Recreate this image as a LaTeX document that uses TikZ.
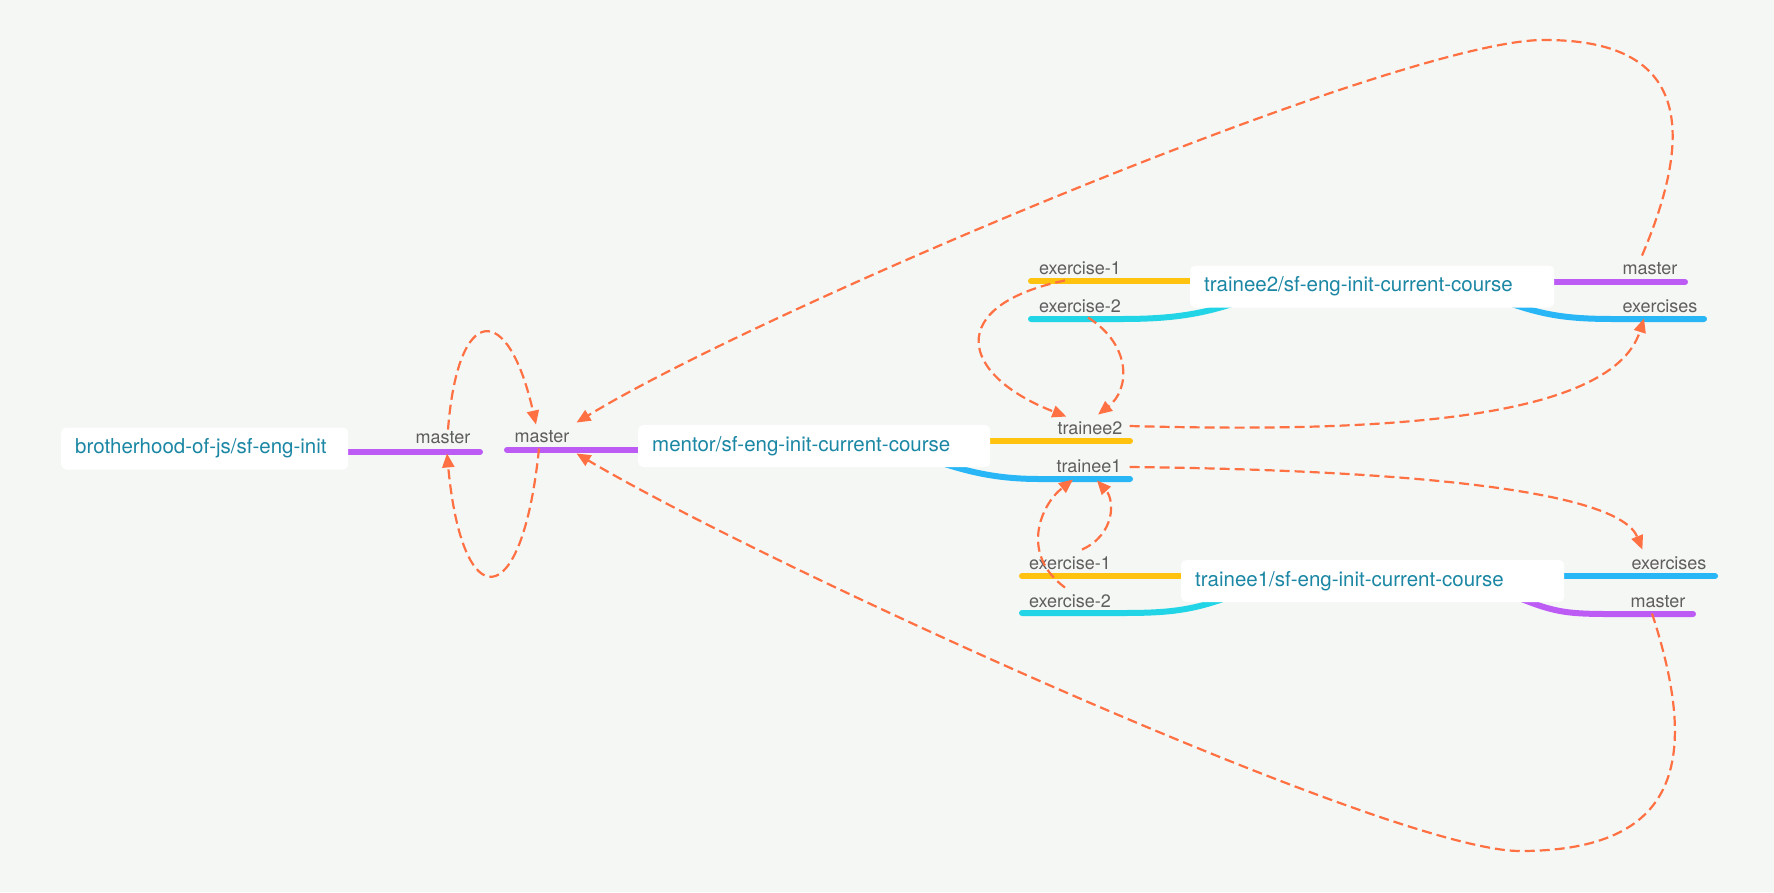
\documentclass[tikz,border=0pt]{standalone}
\usepackage{fontspec}
\setmainfont{TeX Gyre Heros}
\usetikzlibrary{arrows.meta,backgrounds}
\definecolor{canvas}{HTML}{F5F7F4}
\definecolor{repoText}{HTML}{1B87A4}
\definecolor{labelText}{HTML}{5E5E5E}
\definecolor{linePurple}{HTML}{BD5CF5}
\definecolor{lineYellow}{HTML}{FFC20E}
\definecolor{lineBlue}{HTML}{29B6F6}
\definecolor{lineCyan}{HTML}{22D5E6}
\definecolor{linkOrange}{HTML}{FF7043}
\begin{document}
\begin{tikzpicture}[x=1pt, y=-1pt,
			repo/.style={fill=white, rounded corners=5pt, text=repoText, anchor=west, align=left,
				font=\fontsize{20.5}{24}\selectfont, inner xsep=14pt, inner ysep=0pt, minimum height=42pt},
			lbl/.style={text=labelText, font=\fontsize{18}{20}\selectfont, inner sep=1pt,
				text height=12.5pt, text depth=0pt},
			branch/.style={line width=6pt, line cap=round},
			link/.style={draw=linkOrange, line width=2.2pt, dash pattern=on 10pt off 5pt,
				-{Triangle[length=14pt,width=12pt]}},
		]
		\useasboundingbox (0,0) rectangle (1774,892);
		\node[repo, text width=259pt] (bro) at (61,448.5) {brotherhood-of-js/sf-eng-init};
		\node[repo, text width=324pt] (mentor) at (638,446) {mentor/sf-eng-init-current-course};
		\node[repo, text width=336pt] (t2) at (1190,286.5) {trainee2/sf-eng-init-current-course};
		\node[repo, text width=355pt] (t1) at (1181,581) {trainee1/sf-eng-init-current-course};

		\node[lbl] (bm) at (443,437) {master};
		\node[lbl] (mm) at (542,436) {master};
		\node[lbl] (mt2) at (1090,428) {trainee2};
		\node[lbl] (mt1) at (1089,466) {trainee1};
		\node[lbl] (t2e1) at (1080,268) {exercise-1};
		\node[lbl] (t2e2) at (1080,306) {exercise-2};
		\node[lbl] (t2m) at (1650,268) {master};
		\node[lbl] (t2x) at (1660,306) {exercises};
		\node[lbl] (t1e1) at (1070,563) {exercise-1};
		\node[lbl] (t1e2) at (1070,601) {exercise-2};
		\node[lbl] (t1x) at (1669,563) {exercises};
		\node[lbl] (t1m) at (1658,601) {master};

		\coordinate (bmEnd) at (480,452);
		\coordinate (mmEnd) at (507,450);
		\coordinate (mt2End) at (1130,441);
		\coordinate (mt1End) at (1130,479);
		\coordinate (t2e1End) at (1031,281);
		\coordinate (t2e2End) at (1031,319);
		\coordinate (t2mEnd) at (1685,282);
		\coordinate (t2xEnd) at (1704,319);
		\coordinate (t1e1End) at (1022,576);
		\coordinate (t1e2End) at (1022,613);
		\coordinate (t1xEnd) at (1715,576);
		\coordinate (t1mEnd) at (1693,614);
		\coordinate (topTurn) at (1545,40);
		\coordinate (botTurn) at (1520,851);

		\begin{scope}[on background layer]
			\fill[canvas] (0,0) rectangle (1774,892);
			\draw[branch, linePurple] (bro.center |- bmEnd) -- (bmEnd);
			\draw[branch, linePurple] (mmEnd) -- (mmEnd -| mentor.center);
			\draw[branch, lineYellow] (mentor.center |- mt2End) -- (mt2End);
			\draw[branch, lineBlue] ([xshift=-60pt,yshift=8pt]mentor.south east) .. controls +(40,14) and +(-40,0) .. ([xshift=-90pt]mt1End) -- (mt1End);
			\draw[branch, lineYellow] (t2.center |- t2e1End) -- (t2e1End);
			\draw[branch, lineCyan] ([xshift=60pt,yshift=10pt]t2.south west) .. controls +(-45,17) and +(50,0) .. ([xshift=90pt]t2e2End) -- (t2e2End);
			\draw[branch, linePurple] (t2.center |- t2mEnd) -- (t2mEnd);
			\draw[branch, lineBlue] ([xshift=-60pt,yshift=10pt]t2.south east) .. controls +(45,17) and +(-50,0) .. ([xshift=-90pt]t2xEnd) -- (t2xEnd);
			\draw[branch, lineYellow] (t1.center |- t1e1End) -- (t1e1End);
			\draw[branch, lineCyan] ([xshift=60pt,yshift=10pt]t1.south west) .. controls +(-45,18) and +(50,0) .. ([xshift=100pt]t1e2End) -- (t1e2End);
			\draw[branch, lineBlue] (t1.center |- t1xEnd) -- (t1xEnd);
			\draw[branch, linePurple] ([xshift=-60pt,yshift=10pt]t1.south east) .. controls +(45,18) and +(-50,0) .. ([xshift=-85pt]t1mEnd) -- (t1mEnd);
		\end{scope}

		\draw[link] ([xshift=5pt]bm.north) .. controls +(10,-127) and +(-28,-124) .. ([xshift=-6pt,yshift=4pt]mm.north);
		\draw[link] ([xshift=-3pt,yshift=-5pt]mm.south) .. controls +(-17,168) and +(15,163) .. ([xshift=4pt,yshift=-9pt]bm.south);
		\draw[link] ([xshift=-8pt,yshift=5pt]t2m.north) .. controls +(58,-136) and +(135,0) .. (topTurn) .. controls +(-140,-2) and +(185,-113) .. ([xshift=6pt,yshift=6pt]mm.north east);
		\draw[link] ([xshift=-6pt,yshift=-5pt]t1m.south) .. controls +(48,147) and +(160,0) .. (botTurn) .. controls +(-130,0) and +(185,110) .. ([xshift=6pt,yshift=-10pt]mm.south east);
		\draw[link] ([xshift=-15pt,yshift=-5pt]t2e1.south) .. controls +(-120,25) and +(-108,-42) .. ([xshift=10pt,yshift=4pt]mt2.north west);
		\draw[link] ([xshift=8pt,yshift=-4pt]t2e2.south) .. controls +(44,28) and +(32,-25) .. ([xshift=8pt,yshift=6pt]mt2.north);
		\draw[link] ([xshift=6pt,yshift=2pt]mt2.east) .. controls +(222,6) and +(-34,107) .. ([xshift=-16pt,yshift=-5pt]t2x.south);
		\draw[link] ([xshift=7pt,yshift=-1pt]mt1.east) .. controls +(272,3) and +(-24,-60) .. ([xshift=12pt,yshift=6pt]t1x.north west);
		\draw[link] ([xshift=12pt,yshift=6pt]t1e1.north) .. controls +(33,-15) and +(18,20) .. ([xshift=8pt,yshift=-7pt]mt1.south);
		\draw[link] ([xshift=-5pt,yshift=6pt]t1e2.north) .. controls +(-45,-33) and +(-33,26) .. ([xshift=-16pt,yshift=-6pt]mt1.south);
	\end{tikzpicture}
\end{document}
